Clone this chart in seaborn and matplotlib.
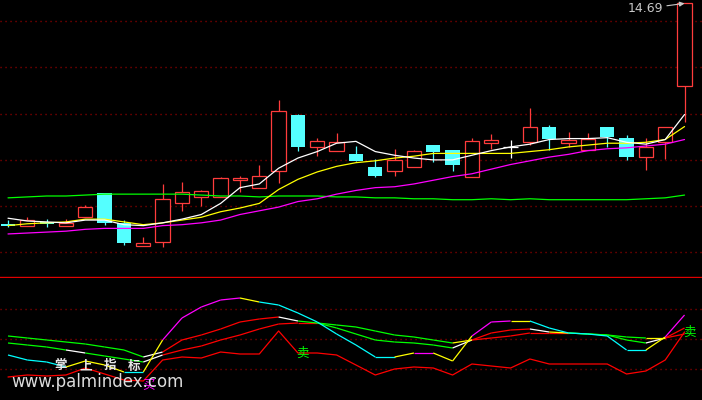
import numpy as np
import pandas as pd
import matplotlib.pyplot as plt
from matplotlib.collections import LineCollection
import seaborn as sns

# --- K线数据 (36 根, 日线) ---
open_ = [12.31, 12.29, 12.33, 12.29, 12.38, 12.64, 12.32, 12.07, 12.11, 12.53, 12.60, 12.60,
         12.78, 12.70, 12.88, 13.49, 13.14, 13.10, 13.06, 12.92, 12.88, 12.92, 13.16, 13.11,
         12.81, 13.18, 13.14, 13.19, 13.36, 13.18, 13.11, 13.35, 13.24, 13.03, 13.19, 13.80]
close = [12.29, 12.35, 12.31, 12.32, 12.49, 12.32, 12.10, 12.10, 12.58, 12.65, 12.66, 12.80,
         12.80, 12.83, 13.53, 13.14, 13.20, 13.19, 12.99, 12.83, 13.00, 13.10, 13.09, 12.95,
         13.20, 13.21, 13.14, 13.36, 13.23, 13.21, 13.23, 13.25, 13.03, 13.14, 13.36, 14.69]
high = [12.35, 12.38, 12.36, 12.36, 12.51, 12.64, 12.35, 12.17, 12.74, 12.76, 12.68, 12.82,
        12.83, 12.95, 13.65, 13.50, 13.24, 13.29, 13.15, 13.01, 13.12, 13.11, 13.16, 13.11,
        13.24, 13.28, 13.21, 13.56, 13.38, 13.30, 13.29, 13.35, 13.27, 13.24, 13.36, 14.69]
low = [12.28, 12.29, 12.28, 12.29, 12.38, 12.30, 12.08, 12.07, 12.06, 12.45, 12.50, 12.60,
       12.65, 12.70, 12.75, 13.10, 13.04, 13.10, 12.99, 12.81, 12.83, 12.92, 12.98, 12.88,
       12.81, 13.12, 13.02, 13.16, 13.11, 13.14, 13.11, 13.14, 13.00, 12.89, 13.01, 13.41]

# 均线
ma5 = [12.37, 12.34, 12.33, 12.32, 12.35, 12.35, 12.30, 12.29, 12.32, 12.36, 12.41, 12.53,
       12.70, 12.74, 12.91, 13.02, 13.09, 13.18, 13.20, 13.09, 13.05, 13.02, 13.00, 13.00,
       13.05, 13.10, 13.14, 13.17, 13.22, 13.23, 13.23, 13.24, 13.19, 13.17, 13.22, 13.49]
ma10 = [12.29, 12.31, 12.32, 12.33, 12.36, 12.36, 12.33, 12.30, 12.32, 12.35, 12.38, 12.44,
        12.48, 12.53, 12.68, 12.79, 12.87, 12.93, 12.97, 12.99, 13.02, 13.04, 13.07, 13.07,
        13.07, 13.07, 13.07, 13.09, 13.11, 13.14, 13.16, 13.18, 13.18, 13.19, 13.22, 13.36]
ma20 = [12.20, 12.21, 12.22, 12.23, 12.25, 12.26, 12.26, 12.26, 12.29, 12.30, 12.32, 12.35,
        12.41, 12.45, 12.49, 12.55, 12.58, 12.63, 12.67, 12.70, 12.71, 12.74, 12.78, 12.82,
        12.85, 12.90, 12.95, 12.99, 13.03, 13.06, 13.10, 13.12, 13.13, 13.15, 13.17, 13.22]
ma60 = [12.59, 12.60, 12.61, 12.61, 12.62, 12.63, 12.63, 12.63, 12.63, 12.63, 12.62, 12.61,
        12.61, 12.60, 12.61, 12.61, 12.61, 12.60, 12.60, 12.59, 12.59, 12.58, 12.58, 12.57,
        12.57, 12.58, 12.57, 12.58, 12.57, 12.57, 12.57, 12.57, 12.57, 12.58, 12.59, 12.62]

# --- 副图指标 ---
line_a = [34, 29, 27, 22, 28, 24, 17, 17, 49, 71, 82, 89, 91, 87, 84, 76, 67, 55, 44, 32, 32, 36,
          36, 28, 53, 67, 68, 68, 61, 56, 55, 53, 39, 39, 52, 74]
line_b = [53, 51, 49, 47, 45, 42, 39, 32, 37, 49, 54, 60, 67, 70, 72, 68, 66, 64, 62, 58, 54, 52,
          49, 46, 49, 56, 59, 60, 57, 56, 55, 54, 52, 51, 51, 61]
line_c = [46, 44, 42, 39, 36, 33, 30, 27, 34, 39, 43, 49, 54, 60, 65, 66, 66, 61, 55, 49, 47, 46,
          44, 41, 49, 51, 53, 56, 56, 56, 55, 54, 49, 46, 51, 55]
line_d = [12, 14, 13, 14, 21, 15, 9, 8, 29, 32, 31, 37, 35, 35, 58, 36, 36, 34, 24, 14, 20, 22,
          21, 14, 25, 23, 21, 30, 25, 25, 25, 25, 15, 18, 29, 57]
# 每一段的颜色 (m 品红, y 黄, c 青, w 白, r 红, g 绿)
seg_a = "ccc" + "yyy" + "c" + "y" + "mmmm" + "y" + "ccccccc" + "y" + "m" + "yy" + "mm" + "y" + "cccccc" + "y" + "m"
seg_b = "ggggggg" + "w" + "rrrrrr" + "w" + "gggggggg" + "y" + "rrr" + "w" + "y" + "gggg" + "y" + "r"
seg_c = "ggg" + "w" + "ggg" + "w" + "rrrrrrrr" + "ggggggg" + "w" + "rrrrr" + "gggg" + "w" + "r"

sell_idx = [15, 35]
buy_idx = [7]

seg_colors = {"m": "#FF00FF", "y": "#FFFF00", "c": "#00FFFF", "w": "#FFFFFF",
              "r": "#FF0000", "g": "#00FF00"}
RED = "#FF3C3C"
CYAN = "#54FFFF"
GRID = "#A00000"

sns.set_style("dark", {"axes.facecolor": "black", "figure.facecolor": "black"})
plt.rcParams["font.family"] = ["DejaVu Sans", "Noto Sans CJK SC"]

df = pd.DataFrame({"i": np.arange(len(close)), "open": open_, "close": close,
                   "high": high, "low": low, "ma5": ma5, "ma10": ma10,
                   "ma20": ma20, "ma60": ma60})

fig = plt.figure(figsize=(7.02, 4.0), dpi=100)
ax = fig.add_axes([0, 123 / 400, 1, 277 / 400])
ax2 = fig.add_axes([0, 0, 1, 122 / 400])

xlim = (-8 / 19.33, (702 - 8) / 19.33)

# --- 主图 ---
for p in [12.0, 12.5, 13.0, 13.5, 14.0, 14.5]:
    ax.axhline(p, color=GRID, lw=1.0, ls=(0, (0.8, 2.8)), zorder=0)

up = df[df["close"] > df["open"]]
down = df[df["close"] < df["open"]]
flat = df[df["close"] == df["open"]]

w = 0.74
# 阳线: 空心红
ax.vlines(up["i"], up["close"], up["high"], color=RED, lw=0.9, zorder=3)
ax.vlines(up["i"], up["low"], up["open"], color=RED, lw=0.9, zorder=3)
ax.bar(up["i"], up["close"] - up["open"], bottom=up["open"], width=w,
       facecolor="black", edgecolor=RED, linewidth=0.9, zorder=3)
# 阴线: 实心青
ax.vlines(down["i"], down["low"], down["high"], color=CYAN, lw=0.9, zorder=3)
ax.bar(down["i"], down["open"] - down["close"], bottom=down["close"], width=w,
       color=CYAN, linewidth=0, zorder=3)
# 十字星
ax.vlines(flat["i"], flat["low"], flat["high"], color="white", lw=0.9, zorder=3)
ax.hlines(flat["close"], flat["i"] - w / 2, flat["i"] + w / 2, color="white", lw=0.9, zorder=3)

for col, c in [("ma60", "#00FF00"), ("ma20", "#FF00FF"), ("ma10", "#FFFF00"), ("ma5", "white")]:
    sns.lineplot(data=df, x="i", y=col, ax=ax, color=c, lw=0.9, zorder=4)

ax.annotate("14.69", xy=(35, 14.69), xytext=(33.0, 14.635), textcoords="data",
            color="#C8C8C8", fontsize=9, ha="center", va="center",
            arrowprops=dict(arrowstyle="-|>", color="#C8C8C8", lw=0.8,
                            mutation_scale=7, shrinkA=0, shrinkB=0))

ax.set_xlim(xlim)
ax.set_ylim(11.735, 14.727)
ax.set_xticks([])
ax.set_yticks([])
ax.set_xlabel("")
ax.set_ylabel("")
for s in ["top", "left", "right"]:
    ax.spines[s].set_visible(False)
ax.spines["bottom"].set_color("#E00000")
ax.spines["bottom"].set_linewidth(1.0)

# --- 副图 ---
for v in [20, 50, 80]:
    ax2.axhline(v, color=GRID, lw=1.0, ls=(0, (0.8, 2.8)), zorder=0)

xs = np.arange(len(line_a))
for vals, codes in [(line_c, seg_c), (line_b, seg_b), (line_a, seg_a)]:
    pts = np.column_stack([xs, vals])
    segs = [pts[k:k + 2] for k in range(len(pts) - 1)]
    lc = LineCollection(segs, colors=[seg_colors[k] for k in codes], linewidths=0.9, zorder=3)
    ax2.add_collection(lc)
sns.lineplot(x=xs, y=line_d, ax=ax2, color="#FF0000", lw=0.9, zorder=3)

for k in sell_idx:
    ax2.text(k + 0.25, line_d[k], "卖", color="#00FF00", fontsize=9,
             ha="center", va="center", family=["Noto Sans CJK SC"], zorder=5)
for k in buy_idx:
    ax2.text(k + 0.25, 4, "买", color="#FF00FF", fontsize=9, ha="center", va="center",
             family=["Noto Sans CJK SC"], zorder=5)

# 水印
for ch, px in zip("掌上指标", [61, 86, 110, 134]):
    fig.text(px / 702, 1 - 366 / 400, ch, color="#E8E8E8", fontsize=9, fontweight="bold",
             ha="center", va="center", family=["Noto Sans CJK SC"])
fig.text(97 / 702, 1 - 382 / 400, "www.palmindex.com", color="#DCDCDC", fontsize=12,
         ha="center", va="center")

ax2.set_xlim(xlim)
ax2.set_ylim(-11, 111)
ax2.set_xticks([])
ax2.set_yticks([])
ax2.set_xlabel("")
ax2.set_ylabel("")
for s in ax2.spines.values():
    s.set_visible(False)

fig.savefig("out.png", dpi=100, facecolor="black")
